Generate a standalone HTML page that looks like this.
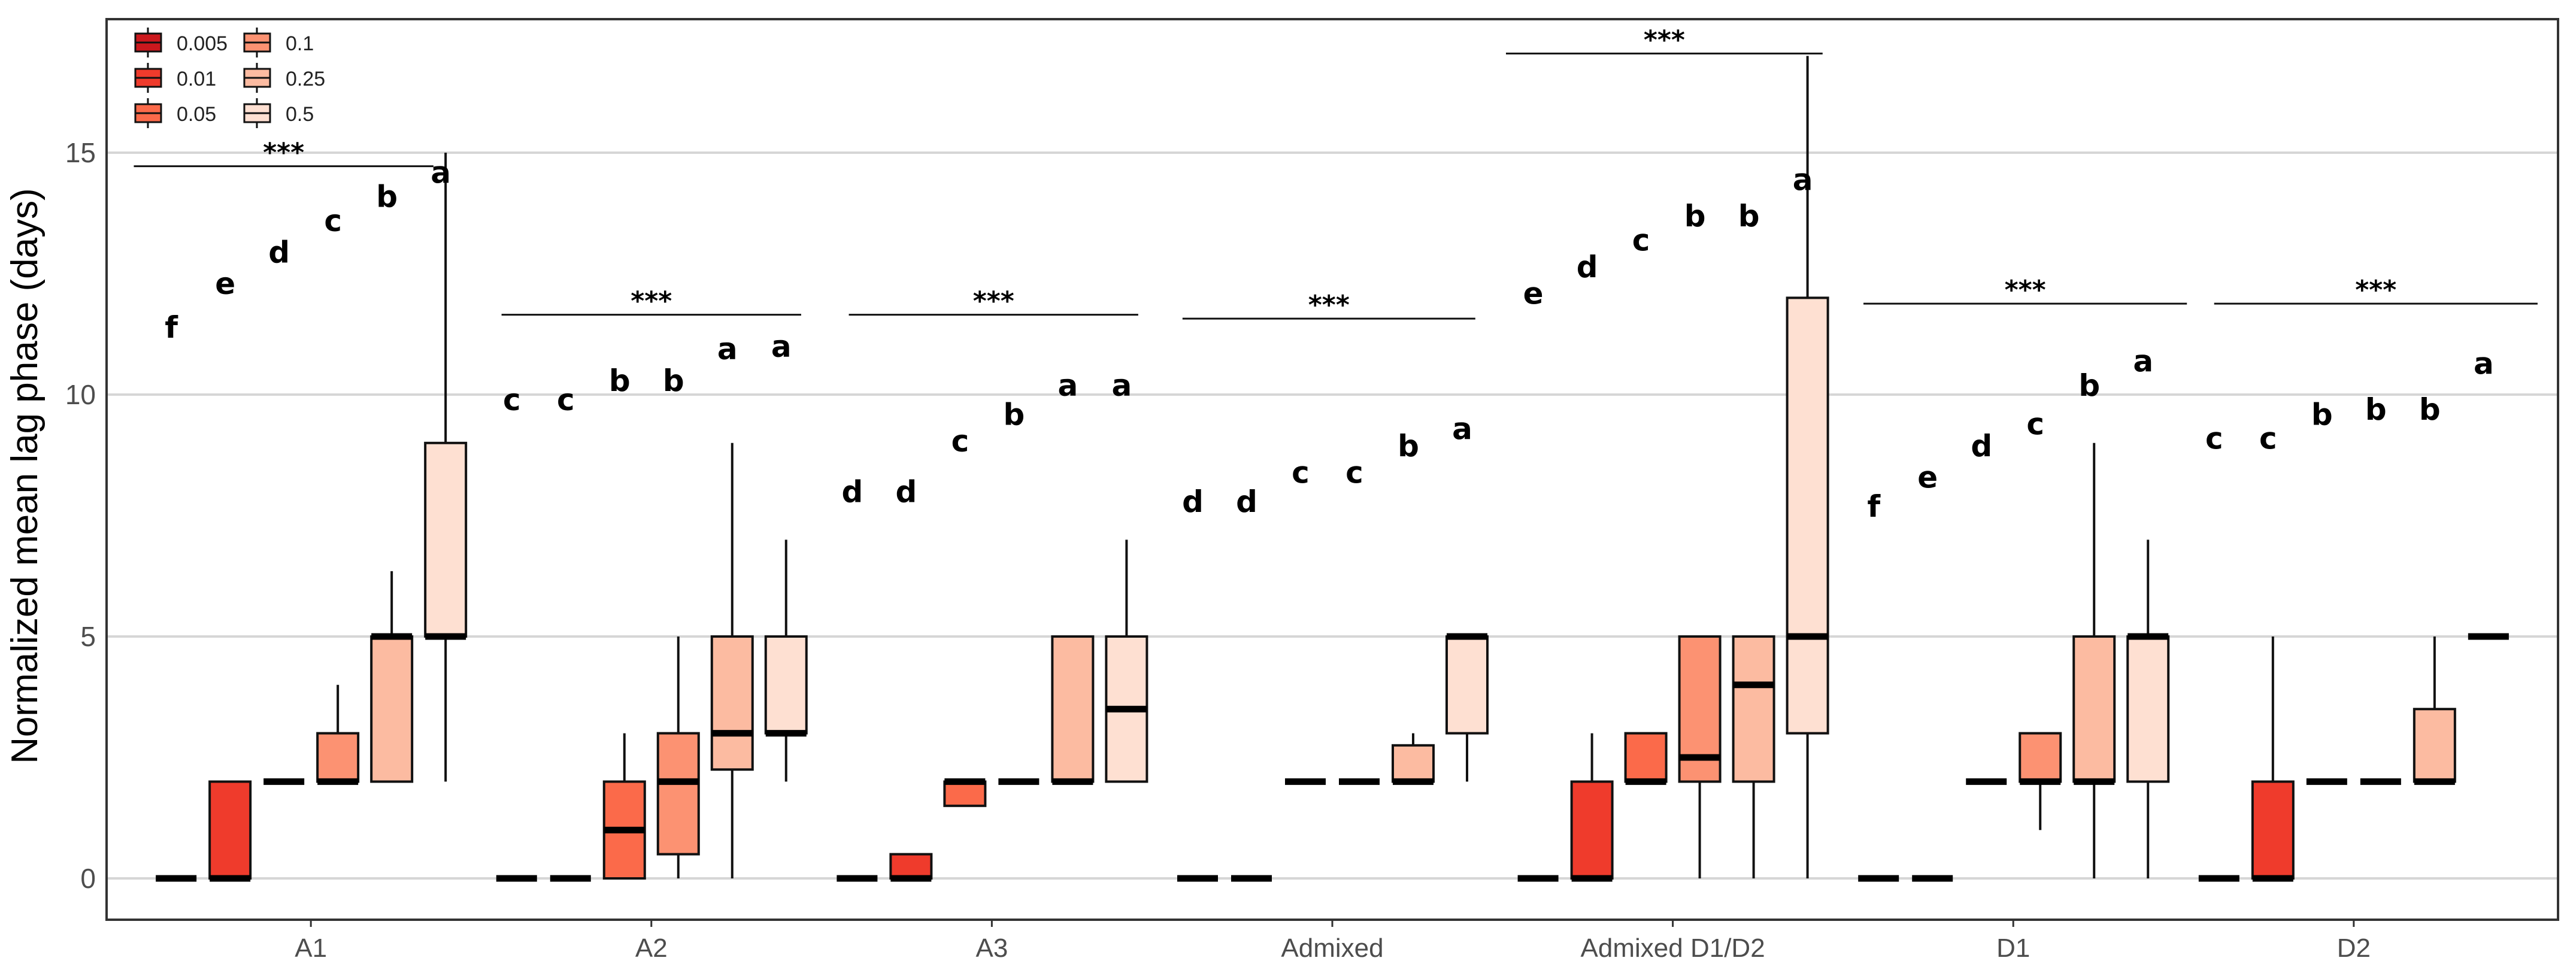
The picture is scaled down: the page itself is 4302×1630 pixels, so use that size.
<!DOCTYPE html>
<html><head><meta charset="utf-8"><style>
html,body{margin:0;padding:0;background:#fff;}
svg{display:block;}
</style></head><body>
<svg id="chart" width="4302" height="1630" viewBox="0 0 4302 1630" xmlns="http://www.w3.org/2000/svg"></svg>
<script>
const categories = ["A1","A2","A3","Admixed","Admixed D1/D2","D1","D2"];
const groups = ["0.005","0.01","0.05","0.1","0.25","0.5"];
const colors = ["#cb181d","#ef3b2c","#fb6a4a","#fc9272","#fcbba1","#fee0d2"];
// per concentration: whisker low, q1, median, q3, whisker high (per category)
const lo005=[0,0,0,0,0,0,0], q1005=[0,0,0,0,0,0,0], md005=[0,0,0,0,0,0,0], q3005=[0,0,0,0,0,0,0], hi005=[0,0,0,0,0,0,0];
const lo01=[0,0,0,0,0,0,0], q101=[0,0,0,0,0,0,0], md01=[0,0,0,0,0,0,0], q301=[2,0,0.5,0,2,0,2], hi01=[2,0,0.5,0,3,0,5];
const lo05=[2,0,1.5,2,2,2,2], q105=[2,0,1.5,2,2,2,2], md05=[2,1,2,2,2,2,2], q305=[2,2,2,2,3,2,2], hi05=[2,3,2,2,3,2,2];
const lo1=[2,0,2,2,0,1,2], q11=[2,0.5,2,2,2,2,2], md1=[2,2,2,2,2.5,2,2], q31=[3,3,2,2,5,3,2], hi1=[4,5,2,2,5,3,2];
const lo25=[2,0,2,2,0,0,2], q125=[2,2.25,2,2,2,2,2], md25=[5,3,2,2,4,2,2], q325=[5,5,5,2.75,5,5,3.5], hi25=[6.35,9,5,3,5,9,5];
const lo5=[2,2,2,2,0,0,5], q15=[5,3,2,3,3,2,5], md5=[5,3,3.5,5,5,5,5], q35=[9,5,5,5,12,5,5], hi5=[15,7,7,5,17,7,5];
const yTicks=[0,5,10,15];
// significance letters per category (6 each) and their y values
const letters=[["f","e","d","c","b","a"],["c","c","b","b","a","a"],["d","d","c","b","a","a"],["d","d","c","c","b","a"],["e","d","c","b","b","a"],["f","e","d","c","b","a"],["c","c","b","b","b","a"]];
const letterY=[[11.4,12.3,12.95,13.6,14.1,14.6],[9.9,9.9,10.3,10.3,10.95,11.0],[8.0,8.0,9.05,9.6,10.2,10.2],[7.8,7.8,8.4,8.4,8.95,9.3],[12.1,12.65,13.2,13.7,13.7,14.45],[7.7,8.3,8.95,9.4,10.2,10.7],[9.1,9.1,9.6,9.7,9.7,10.65]];
const sigY=[14.72,11.65,11.65,11.57,17.05,11.88,11.88];
const sigFrom=[-0.52,-0.44,-0.42,-0.44,-0.49,-0.44,-0.41];
const sigTo=[0.36,0.44,0.43,0.42,0.44,0.51,0.54];

const series=[[lo005,q1005,md005,q3005,hi005],[lo01,q101,md01,q301,hi01],[lo05,q105,md05,q305,hi05],[lo1,q11,md1,q31,hi1],[lo25,q125,md25,q325,hi25],[lo5,q15,md5,q35,hi5]];
const L=178,R=4272,T=32,B=1536;
const y0=1467, pxu=80.8;
function Y(v){return y0-v*pxu;}
const catW=(R-L)/7.2;
function X(i){return L+(i+0.6)*catW;}
const slot=90, bw=68;
const svg=document.getElementById('chart');
const NS="http://www.w3.org/2000/svg";
function mk(tag,attrs,parent){const e=document.createElementNS(NS,tag);for(const k in attrs)e.setAttribute(k,attrs[k]);(parent||svg).appendChild(e);return e;}

// grid
yTicks.forEach(t=>{
  const g=mk('line',{x1:L,x2:R,y1:Y(t),y2:Y(t),stroke:'#d6d6d6','stroke-width':4});
  
  
  const lb=mk('text',{x:160,y:Y(t)+16,'text-anchor':'end','font-size':46,fill:'#4d4d4d','font-family':'Liberation Sans, sans-serif'});
  lb.textContent=t;
  
  
});
// boxes
series.forEach((s,gi)=>{
  categories.forEach((c,ci)=>{
    const cx=X(ci)+(gi-2.5)*slot;
    const gEl=mk('g',{});
    
    
    const lo=s[0][ci],q1=s[1][ci],md=s[2][ci],q3=s[3][ci],hi=s[4][ci];
    if(hi>q3) mk('line',{x1:cx,x2:cx,y1:Y(q3),y2:Y(hi),stroke:'#111','stroke-width':4},gEl);
    if(lo<q1) mk('line',{x1:cx,x2:cx,y1:Y(q1),y2:Y(lo),stroke:'#111','stroke-width':4},gEl);
    if(q3>q1) mk('rect',{x:cx-bw/2,y:Y(q3),width:bw,height:Y(q1)-Y(q3),fill:colors[gi],stroke:'#111','stroke-width':4},gEl);
    mk('line',{x1:cx-bw/2,x2:cx+bw/2,y1:Y(md),y2:Y(md),stroke:'#000','stroke-width':11},gEl);
    const lt=mk('text',{x:cx-8,y:Y(letterY[ci][gi])+18,'text-anchor':'middle','font-size':50,'font-weight':'bold',fill:'#000','font-family':'DejaVu Sans, sans-serif'});
    lt.textContent=letters[ci][gi];
    
    
  });
});
// significance lines
categories.forEach((c,ci)=>{
  const x1=X(ci)+sigFrom[ci]*catW,x2=X(ci)+sigTo[ci]*catW;
  const ln=mk('line',{x1:x1,x2:x2,y1:Y(sigY[ci]),y2:Y(sigY[ci]),stroke:'#111','stroke-width':3});
  
  
  const st=mk('text',{x:(x1+x2)/2,y:Y(sigY[ci])-8,'text-anchor':'middle','font-size':44,'font-weight':'bold',fill:'#000','font-family':'DejaVu Sans, sans-serif'});
  st.textContent='***';
  
  
  // x tick + label
  mk('line',{x1:X(ci),x2:X(ci),y1:B,y2:B+12,stroke:'#333','stroke-width':3});
  const xl=mk('text',{x:X(ci),y:1598,'text-anchor':'middle','font-size':44,fill:'#4d4d4d','font-family':'Liberation Sans, sans-serif'});
  xl.textContent=c;
  
  
});
// panel border
const border=mk('rect',{x:L,y:T,width:R-L,height:B-T,fill:'none',stroke:'#333','stroke-width':4});


// y title
const yt=mk('text',{x:0,y:0,transform:'translate(62,795) rotate(-90)','text-anchor':'middle','font-size':62,fill:'#000','font-family':'Liberation Sans, sans-serif'});
yt.textContent='Normalized mean lag phase (days)';


// legend
const leg=mk('g',{});


groups.forEach((g,gi)=>{
  const col=Math.floor(gi/3),row=gi%3;
  const kx=col?408:226, cy=[71,130,189][row];
  const e=mk('g',{},leg);
  
  
  mk('line',{x1:kx+21,x2:kx+21,y1:cy-25,y2:cy+25,stroke:'#111','stroke-width':3},e);
  mk('rect',{x:kx,y:cy-15,width:43,height:30,fill:colors[gi],stroke:'#111','stroke-width':3},e);
  mk('line',{x1:kx,x2:kx+43,y1:cy,y2:cy,stroke:'#111','stroke-width':3},e);
  const t=mk('text',{x:col?477:295,y:cy+13,'font-size':34,fill:'#222','font-family':'Liberation Sans, sans-serif'},e);
  t.textContent=g;
});
</script>
</body></html>
